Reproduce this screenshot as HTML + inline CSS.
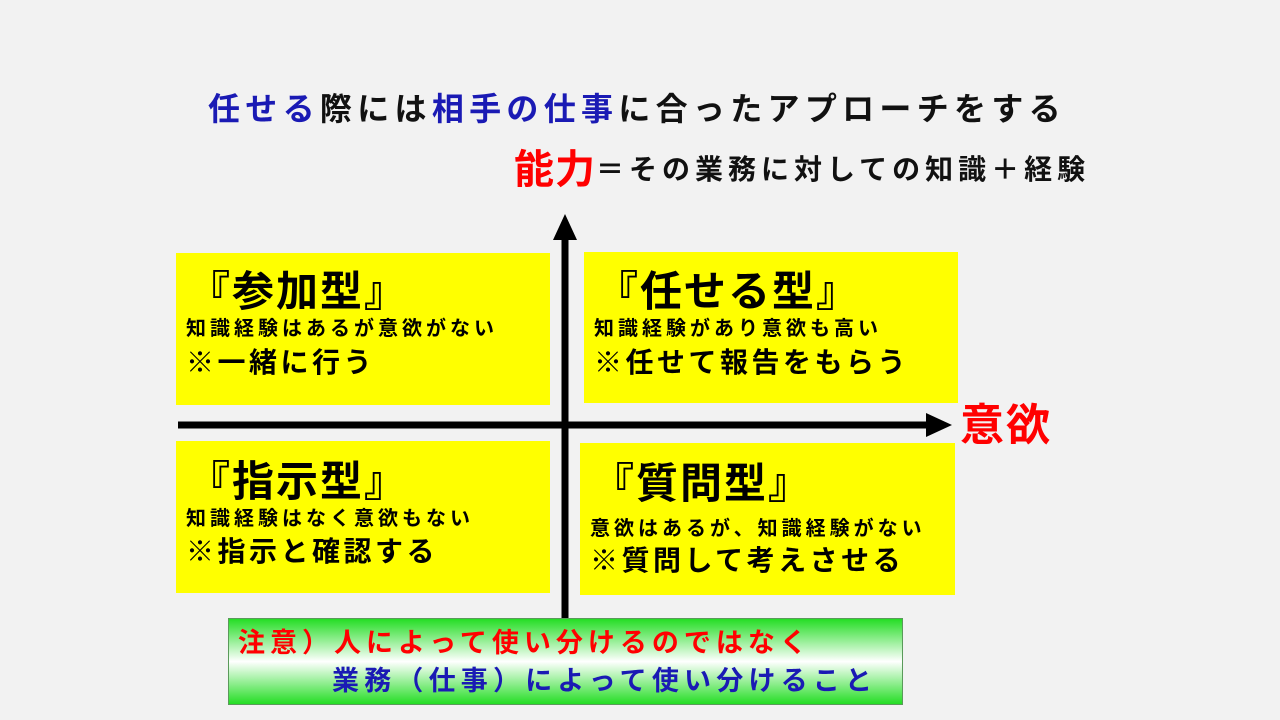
<!DOCTYPE html>
<html><head><meta charset="utf-8"><style>
body{margin:0;width:1280px;height:720px;background:#f2f2f2;position:relative;overflow:hidden;font-family:"Liberation Sans","Noto Sans CJK JP",sans-serif;font-weight:bold;}
.a{position:absolute;white-space:nowrap;line-height:1;}
.box{position:absolute;background:#ffff00;}
.t{font-size:42px;letter-spacing:2px;color:#000}
.s{font-size:20px;letter-spacing:4px;color:#000}
.m{font-size:28px;letter-spacing:3.5px;color:#000}
</style></head><body>
<div class="a" style="left:208px;top:93px;font-size:32px;color:#111;letter-spacing:5.3px"><span style="color:#1a1ab4">任せる</span>際には<span style="color:#1a1ab4">相手の仕事</span>に合ったアプローチをする</div>
<div class="a" style="left:514px;top:150px;font-size:28px;color:#111;letter-spacing:5px"><span style="color:#ff0000;font-size:40px;vertical-align:-4px;letter-spacing:1px">能力</span>＝その業務に対しての知識＋経験</div>

<div class="box" style="left:176px;top:253px;width:374px;height:152px"></div>
<div class="box" style="left:584px;top:252px;width:374px;height:151px"></div>
<div class="box" style="left:176px;top:441px;width:374px;height:152px"></div>
<div class="box" style="left:580px;top:443px;width:375px;height:152px"></div>

<svg style="position:absolute;left:0;top:0" width="1280" height="720">
<line x1="565" y1="238" x2="565" y2="618" stroke="#000" stroke-width="7"/>
<polygon points="565,214 553,240 577,240" fill="#000"/>
<line x1="178" y1="425" x2="930" y2="425" stroke="#000" stroke-width="7"/>
<polygon points="952,425 926,413 926,437" fill="#000"/>
<defs><linearGradient id="g" x1="0" y1="0" x2="0" y2="1"><stop offset="0" stop-color="#22dd22"/><stop offset="0.5" stop-color="#ffffff"/><stop offset="1" stop-color="#22dd22"/></linearGradient></defs>
<rect x="228.5" y="618.5" width="674" height="86" fill="url(#g)" stroke="#5a9a5a" stroke-width="1"/>
</svg>

<div class="a" style="left:960px;top:404px;font-size:44px;letter-spacing:2px;color:#ff0000">意欲</div>

<div class="a t" style="left:188px;top:271px">『参加型』</div>
<div class="a s" style="left:186px;top:319px">知識経験はあるが意欲がない</div>
<div class="a m" style="left:186px;top:349px">※一緒に行う</div>

<div class="a t" style="left:596px;top:271px">『任せる型』</div>
<div class="a s" style="left:594px;top:319px">知識経験があり意欲も高い</div>
<div class="a m" style="left:594px;top:349px">※任せて報告をもらう</div>

<div class="a t" style="left:188px;top:461px">『指示型』</div>
<div class="a s" style="left:186px;top:509px">知識経験はなく意欲もない</div>
<div class="a m" style="left:186px;top:538px">※指示と確認する</div>

<div class="a t" style="left:592px;top:463px">『質問型』</div>
<div class="a s" style="left:590px;top:519px;letter-spacing:4px">意欲はあるが、知識経験がない</div>
<div class="a m" style="left:590px;top:547px">※質問して考えさせる</div>

<div class="a" style="left:238px;top:630px;font-size:27px;letter-spacing:5px;color:#ff0000">注意）人によって使い分けるのではなく</div>
<div class="a" style="left:332px;top:668px;font-size:27px;letter-spacing:5.2px;color:#1a1ab4">業務（仕事）によって使い分けること</div>
</body></html>
